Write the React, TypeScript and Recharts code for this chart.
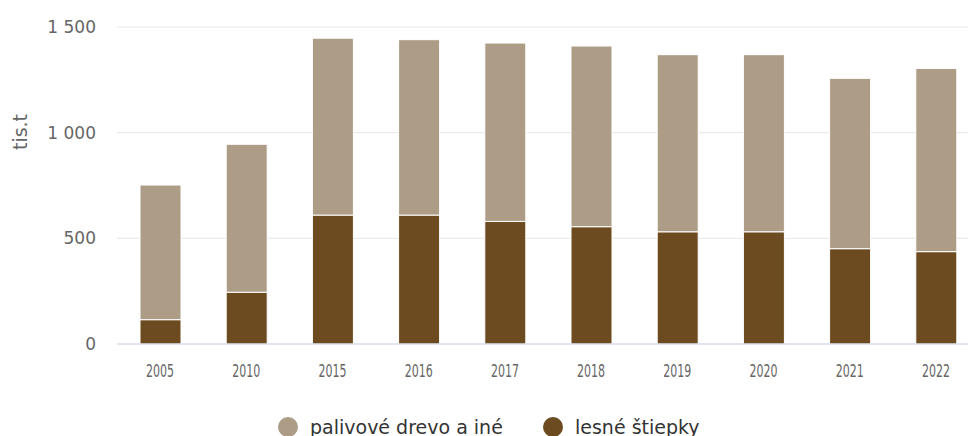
import { BarChart, Bar, XAxis, YAxis, CartesianGrid } from "recharts"

const years = ["2005", "2010", "2015", "2016", "2017", "2018", "2019", "2020", "2021", "2022"]
const lesneStiepky = [115, 245, 610, 610, 580, 555, 531, 531, 451, 437]
const palivoveDrevo = [637, 700, 837, 830, 844, 855, 838, 838, 806, 867]
const yTicks = [0, 500, 1000, 1500]

const LIGHT = "#ae9d86"
const DARK = "#6b4b1f"

const data = years.map((year, i) => ({
  year,
  stiepky: lesneStiepky[i],
  drevo: palivoveDrevo[i],
}))

const fmt = (v: number) =>
  v >= 1000 ? `${Math.floor(v / 1000)} ${String(v % 1000).padStart(3, "0")}` : String(v)

function YTitle() {
  return (
    <text
      x={20}
      y={132}
      transform="rotate(-90 20 132)"
      textAnchor="middle"
      dominantBaseline="central"
      fill="#666"
      fontSize={19}
      fontFamily="DejaVu Sans"
    >
      tis.t
    </text>
  )
}

// narrow year labels, like the source
function YearTick(props: any) {
  const { x, y, payload } = props
  return (
    <text
      x={x}
      y={y}
      dy={12}
      textAnchor="middle"
      fill="#666"
      fontSize={17}
      fontFamily="DejaVu Sans"
      textLength={28}
      lengthAdjust="spacingAndGlyphs"
    >
      {payload.value}
    </text>
  )
}

function LegendBox() {
  return (
    <svg width={968} height={40} style={{ position: "absolute", left: 0, top: 400, display: "block" }}>
      <g fontFamily="DejaVu Sans" fontSize={19} fill="#333">
        <circle cx={288} cy={27} r={10} fill={LIGHT} />
        <text x={310} y={34}>palivové drevo a iné</text>
        <circle cx={553} cy={27} r={10} fill={DARK} />
        <text x={575} y={34}>lesné štiepky</text>
      </g>
    </svg>
  )
}

export default function App() {
  return (
    <div style={{ position: "absolute", left: 0, top: 0, width: 968, height: 436, overflow: "hidden", background: "#fff" }}>
      <BarChart
        width={980}
        height={436}
        data={data}
        margin={{ top: 27, right: 1, left: 0, bottom: 0 }}
        barSize={41}
      >
        <CartesianGrid vertical={false} stroke="#e6e6e6" />
        <XAxis
          dataKey="year"
          interval={0}
          tickLine={false}
          tickSize={0}
          tickMargin={21}
          height={92}
          axisLine={{ stroke: "#ccd6eb" }}
          tick={<YearTick />}
        />
        <YAxis
          width={117}
          domain={[0, 1500]}
          ticks={yTicks}
          tickFormatter={fmt}
          axisLine={false}
          tickLine={false}
          tickSize={0}
          tickMargin={21}
          tick={{ fill: "#666", fontSize: 17, fontFamily: "DejaVu Sans" }}
          label={<YTitle />}
        />
        <Bar dataKey="stiepky" name="lesné štiepky" stackId="a" fill={DARK} stroke="#fff" strokeWidth={1} isAnimationActive={false} />
        <Bar dataKey="drevo" name="palivové drevo a iné" stackId="a" fill={LIGHT} stroke="#fff" strokeWidth={1} isAnimationActive={false} />
      </BarChart>
      <LegendBox />
    </div>
  )
}
